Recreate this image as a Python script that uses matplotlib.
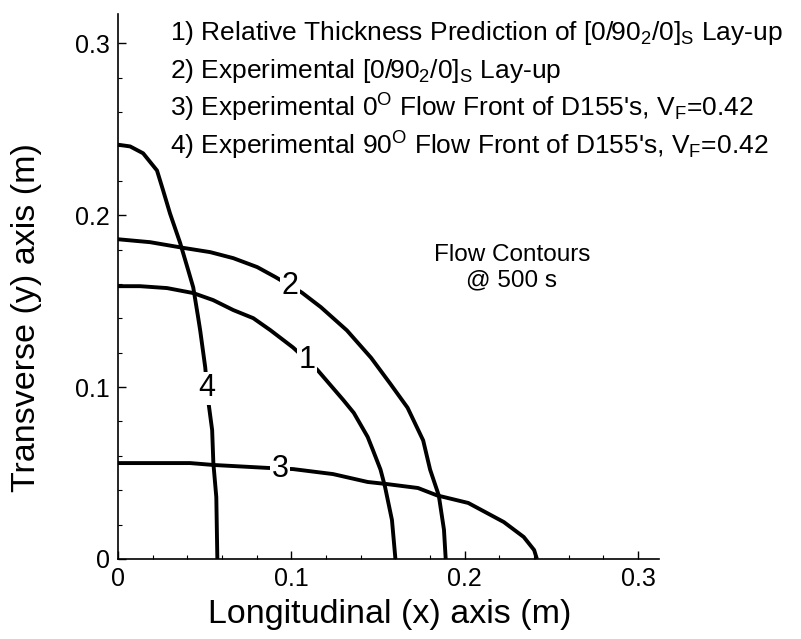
import numpy as np
import matplotlib
matplotlib.use('AGG')
import matplotlib.pyplot as plt
from matplotlib.ticker import MultipleLocator

plt.rcParams['font.family'] = 'Liberation Sans'
plt.rcParams['mathtext.fontset'] = 'custom'
plt.rcParams['mathtext.rm'] = 'Liberation Sans'
plt.rcParams['mathtext.it'] = 'Liberation Sans'

# Flow fronts at 500 s (x, y in metres)
c1_x = [0, 0.0127, 0.0283, 0.0434, 0.0549, 0.0665, 0.078, 0.0879, 0.101, 0.115, 0.130, 0.136,
        0.144, 0.147, 0.1514, 0.154, 0.158, 0.160]
c1_y = [0.1587, 0.1587, 0.1576, 0.1547, 0.1506, 0.1448, 0.1401, 0.1331, 0.123, 0.110, 0.0924, 0.085,
        0.071, 0.0634, 0.052, 0.042, 0.0227, 0]

c2_x = [0, 0.0185, 0.0376, 0.0532, 0.0665, 0.0803, 0.0908, 0.106, 0.117, 0.132, 0.146, 0.157,
        0.167, 0.176, 0.180, 0.185, 0.188, 0.189]
c2_y = [0.186, 0.1843, 0.181, 0.1785, 0.175, 0.1698, 0.164, 0.155, 0.1465, 0.133, 0.117, 0.102,
        0.088, 0.069, 0.052, 0.037, 0.017, 0]

c3_x = [0, 0.0416, 0.055, 0.086, 0.101, 0.124, 0.144, 0.155, 0.173, 0.184, 0.202, 0.2225, 0.234, 0.240, 0.2416]
c3_y = [0.0558, 0.0558, 0.0547, 0.053, 0.0523, 0.0494, 0.0448, 0.0436, 0.0413, 0.037, 0.0326, 0.0215, 0.0128, 0.0052, 0]

c4_x = [0, 0.007, 0.0145, 0.0225, 0.026, 0.030, 0.0358, 0.0405, 0.0434, 0.0462, 0.0474, 0.0503,
        0.052, 0.0543, 0.055, 0.0567, 0.0573]
c4_y = [0.241, 0.240, 0.236, 0.226, 0.2145, 0.201, 0.184, 0.168, 0.158, 0.1407, 0.133, 0.1116,
        0.0924, 0.075, 0.0558, 0.036, 0]

curves = [(c1_x, c1_y), (c2_x, c2_y), (c3_x, c3_y), (c4_x, c4_y)]
# where each contour carries its number
label_pos = [(0.109, 0.116), (0.0994, 0.159), (0.0936, 0.0523), (0.0514, 0.0994)]

legend_lines = [
    r"1) Relative Thickness Prediction of [0/90$_2$/0]$_\mathrm{S}$ Lay-up",
    r"2) Experimental [0/90$_2$/0]$_\mathrm{S}$ Lay-up",
    r"3) Experimental 0$^\mathrm{O}$ Flow Front of D155's, V$_\mathrm{F}$=0.42",
    r"4) Experimental 90$^\mathrm{O}$ Flow Front of D155's, V$_\mathrm{F}$=0.42",
]

fig = plt.figure(figsize=(8.01, 6.39), dpi=100)
ax = fig.add_axes([0.1473, 0.1252, 0.6754, 0.8528])

for i, (x, y) in enumerate(curves):
    ax.plot(x, y, color='black', lw=2.8, solid_capstyle='butt', solid_joinstyle='round', clip_on=False)
    lx, ly = label_pos[i]
    ax.text(lx, ly, str(i + 1), fontsize=22, ha='center', va='center',
            bbox=dict(facecolor='white', edgecolor='none', pad=1.0))

ax.set_xlim(0, 0.312)
ax.set_ylim(0, 0.317)
ax.spines['top'].set_visible(False)
ax.spines['right'].set_visible(False)
ax.spines['left'].set_linewidth(1.2)
ax.spines['bottom'].set_linewidth(1.2)

ax.xaxis.set_major_locator(MultipleLocator(0.1))
ax.yaxis.set_major_locator(MultipleLocator(0.1))
ax.xaxis.set_minor_locator(MultipleLocator(0.02))
ax.yaxis.set_minor_locator(MultipleLocator(0.02))
ax.tick_params(which='major', direction='in', length=6, width=1, labelsize=18, pad=6)
ax.tick_params(which='minor', direction='in', length=3, width=0.8)
ax.set_xticks([0, 0.1, 0.2, 0.3])
ax.set_xticklabels(['0', '0.1', '0.2', '0.3'])
ax.set_yticks([0, 0.1, 0.2, 0.3])
ax.set_yticklabels(['0', '0.1', '0.2', '0.3'])

fig.text(390 / 801, 1 - 615 / 639, "Longitudinal (x) axis (m)", fontsize=24.5,
         ha='center', va='center')
fig.text(27 / 801, 1 - 318 / 639, "Transverse (y) axis (m)", fontsize=24.5,
         ha='center', va='center', rotation=90)

baselines = [40, 78, 117, 155]
for txt, b in zip(legend_lines, baselines):
    fig.text(170 / 801, 1 - b / 639, txt, fontsize=19, ha='left', va='baseline')

fig.text(512 / 801, 1 - 268 / 639, "Flow Contours\n@ 500 s", fontsize=17.5,
         ha='center', va='center', linespacing=1.2)

fig.savefig('out.png', dpi=100)
